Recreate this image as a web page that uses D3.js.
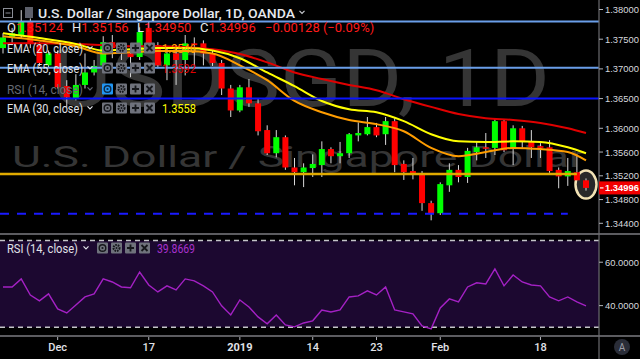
<!DOCTYPE html>
<meta charset="utf-8">
<script src="https://cdn.jsdelivr.net/npm/d3@7"></script>
<style>
  body { margin: 0; background: #000; overflow: hidden; }
  text { font-family: Roboto, "Liberation Sans", Arial, sans-serif; }
  .ax { font-family: "Liberation Sans", Arial, sans-serif; }
</style>
<div id="chart"></div>
<script>

// ---- data ----
const dates = ["2018-11-23","2018-11-26","2018-11-27","2018-11-28","2018-11-29","2018-11-30",
  "2018-12-03","2018-12-04","2018-12-05","2018-12-06","2018-12-07","2018-12-10","2018-12-11","2018-12-12",
  "2018-12-13","2018-12-14","2018-12-17","2018-12-18","2018-12-19","2018-12-20","2018-12-21","2018-12-24",
  "2018-12-26","2018-12-27","2018-12-28","2018-12-31","2019-01-02","2019-01-03","2019-01-04","2019-01-07",
  "2019-01-08","2019-01-09","2019-01-10","2019-01-11","2019-01-14","2019-01-15","2019-01-16","2019-01-17",
  "2019-01-18","2019-01-21","2019-01-22","2019-01-23","2019-01-24","2019-01-25","2019-01-28","2019-01-29",
  "2019-01-30","2019-01-31","2019-02-01","2019-02-04","2019-02-05","2019-02-06","2019-02-07","2019-02-08",
  "2019-02-11","2019-02-12","2019-02-13","2019-02-14","2019-02-15","2019-02-18","2019-02-19","2019-02-20",
  "2019-02-21","2019-02-22","2019-02-25"]

const open = [1.3735,1.3753,1.3757,1.3779,1.3740,1.3706,1.3726,1.3671,1.3651,1.3673,1.3694,1.3706,1.3745,
  1.3735,1.3726,1.3720,1.3769,1.3740,1.3706,1.3726,1.3715,1.3743,1.3743,1.3726,1.3710,1.3667,1.3630,1.3669,
  1.3642,1.3597,1.3558,1.3585,1.3534,1.3526,1.3533,1.3538,1.3565,1.3553,1.3558,1.3588,1.3590,1.3602,1.3590,
  1.3612,1.3540,1.3528,1.3523,1.3474,1.3457,1.3504,1.3530,1.3518,1.3560,1.3568,1.3567,1.3612,1.3565,1.3600,
  1.3578,1.3570,1.3568,1.3530,1.3519,1.3526,1.35124]
const high = [1.3760,1.3769,1.3799,1.3785,1.3745,1.3731,1.3731,1.3681,1.3691,1.3726,1.3715,1.3755,1.3757,
  1.3740,1.3731,1.3770,1.3779,1.3745,1.3737,1.3740,1.3757,1.3753,1.3748,1.3731,1.3715,1.3673,1.3673,1.3683,
  1.3651,1.3605,1.3597,1.3588,1.3550,1.3541,1.3556,1.3578,1.3568,1.3577,1.3592,1.3610,1.3619,1.3609,1.3619,
  1.3617,1.3546,1.3550,1.3528,1.3478,1.3509,1.3541,1.3538,1.3567,1.3577,1.3592,1.3617,1.3615,1.3605,1.3604,
  1.3597,1.3575,1.3580,1.3534,1.3550,1.3556,1.35156]
const low = [1.3726,1.3740,1.3752,1.3735,1.3705,1.3703,1.3667,1.3636,1.3647,1.3667,1.3689,1.3705,1.3718,
  1.3715,1.3686,1.3715,1.3737,1.3701,1.3681,1.3673,1.3689,1.3703,1.3706,1.3705,1.3656,1.3619,1.3627,1.3636,
  1.3588,1.3555,1.3551,1.3530,1.3504,1.3501,1.3518,1.3518,1.3541,1.3541,1.3550,1.3578,1.3588,1.3585,1.3572,
  1.3526,1.3513,1.3514,1.3461,1.3445,1.3454,1.3493,1.3509,1.3508,1.3546,1.3550,1.3555,1.3560,1.3538,1.3567,
  1.3550,1.3550,1.3525,1.3499,1.3503,1.35124,1.34950]
const close = [1.3753,1.3760,1.3779,1.3743,1.3710,1.3726,1.3669,1.3652,1.3673,1.3694,1.3705,1.3745,1.3735,
  1.3726,1.3720,1.3762,1.3743,1.3706,1.3726,1.3715,1.3743,1.3740,1.3726,1.3710,1.3667,1.3630,1.3669,1.3642,
  1.3595,1.3558,1.3585,1.3534,1.3526,1.3534,1.3540,1.3565,1.3553,1.3558,1.3590,1.3592,1.3602,1.3588,1.3612,
  1.3538,1.3526,1.3523,1.3474,1.3457,1.3506,1.3530,1.3518,1.3562,1.3568,1.3567,1.3612,1.3563,1.3600,1.3578,
  1.3568,1.3567,1.3528,1.3519,1.3528,1.35124,1.34996]

// EMA values read at a subset of bars (bar index)
const emaIdx = [0,4,8,11,14,17,20,23,26,29,32,35,38,41,44,47,50,53,56,59,62,64]
const ema20 = [1.3755,1.3748,1.3738,1.3726,1.3728,1.3730,1.3730,1.3726,1.3706,1.3681,1.3646,1.3627,1.3614,
  1.3607,1.3595,1.3567,1.3553,1.3560,1.3567,1.3565,1.3560,1.3546]
const ema30 = [1.3760,1.3752,1.3742,1.3731,1.3733,1.3735,1.3735,1.3731,1.3718,1.3694,1.3671,1.3646,1.3632,
  1.3627,1.3612,1.3590,1.3578,1.3577,1.3578,1.3577,1.3568,1.3558]
const ema55 = [1.3743,1.3743,1.3742,1.3740,1.3738,1.3738,1.3737,1.3733,1.3725,1.3711,1.3694,1.3683,1.3673,
  1.3664,1.3649,1.3636,1.3624,1.3617,1.3614,1.3609,1.3600,1.3592]

const rsi = [48.6,48.6,52.3,44.9,42.2,45.4,38.5,36.6,40.3,44.0,45.4,52.3,50.9,48.6,48.2,55.5,49.5,46.3,49.1,
  47.2,52.3,51.4,49.1,46.3,39.9,35.7,42.6,39.4,34.8,31.6,35.7,31.1,30.2,32.0,33.0,38.0,37.1,38.0,44.0,44.5,
  46.8,44.9,48.6,38.0,37.1,36.2,30.6,29.3,38.9,43.1,41.7,48.6,50.5,50.0,56.9,49.1,54.1,50.9,49.5,49.1,44.0,
  42.2,44.0,41.7,39.8669]

// drawn levels
const lightLevels = [1.3780, 1.3702]
const blueLevel = 1.3650
const goldLevel = 1.3523
const dashLevel = 1.3456
const rsiBands = [70, 30]

const priceTicks = [1.38, 1.375, 1.37, 1.365, 1.36, 1.356, 1.352, 1.348, 1.344]
const rsiTicks = [60, 40]
const timeTickDates = ["2018-12-03","2018-12-17","2019-01-02","2019-01-14","2019-01-23","2019-02-01","2019-02-18"]
const timeTickLabels = ["Dec","17","2019","14","23","Feb","18"]

// ---- layout ----
const W = 640, H = 359
const axisX = 599
const mainBot = 234, rsiBot = 336

const svg = d3.select("#chart").append("svg")
    .attr("width", W).attr("height", H)
    .style("background", "#000")

const x = d3.scalePoint().domain(dates).range([3, 586])
const y = d3.scaleLinear().domain([1.3422, 1.3816]).range([mainBot, 0])
const yr = d3.scaleLinear().domain([26.0, 73.0]).range([rsiBot, mainBot])
const f5 = d3.format(".5f")
const last = dates.length - 1

const defs = svg.append("defs")
defs.append("clipPath").attr("id", "mainClip")
  .append("rect").attr("x", 0).attr("y", 0).attr("width", axisX).attr("height", mainBot)
defs.append("clipPath").attr("id", "rsiClip")
  .append("rect").attr("x", 0).attr("y", mainBot).attr("width", axisX).attr("height", rsiBot - mainBot)

const main = svg.append("g").attr("clip-path", "url(#mainClip)")

// watermark
main.append("text")
    .attr("x", 52).attr("y", 106)
    .attr("font-size", 80)
    .attr("fill", "#353535")
    .attr("textLength", 498).attr("lengthAdjust", "spacingAndGlyphs")
    .text("USDSGD, 1D")
main.append("text")
    .attr("x", 12).attr("y", 167)
    .attr("font-size", 30)
    .attr("fill", "#353535")
    .attr("textLength", 572).attr("lengthAdjust", "spacingAndGlyphs")
    .text("U.S. Dollar / Singapore Dollar")

// circle marking the last bar
main.append("ellipse")
    .attr("cx", x(dates[last])).attr("cy", y((high[last] + low[last]) / 2))
    .attr("rx", 10.5).attr("ry", 14)
    .attr("fill", "rgba(90,90,90,0.45)")
    .attr("stroke", "#f2e2b4").attr("stroke-width", 2.5)

// candles
const bars = dates.map((d, i) => ({d, o: open[i], h: high[i], l: low[i], c: close[i]}))
const candle = main.append("g").selectAll("g").data(bars).join("g")
candle.append("line")
    .attr("x1", d => x(d.d)).attr("x2", d => x(d.d))
    .attr("y1", d => y(d.h)).attr("y2", d => y(d.l))
    .attr("stroke", "#d8d8d8").attr("stroke-width", 1)
candle.append("rect")
    .attr("x", d => x(d.d) - 3).attr("width", 6)
    .attr("y", d => y(Math.max(d.o, d.c)))
    .attr("height", d => Math.max(1.5, Math.abs(y(d.o) - y(d.c))))
    .attr("fill", d => d.c >= d.o ? "#00ff00" : "#ff0000")

// EMAs
const emaLine = vals => d3.line()
    .x((v, k) => x(dates[emaIdx[k]]))
    .y(v => y(v))
    .curve(d3.curveMonotoneX)(vals)
;[[ema55, "#e00000"], [ema30, "#ffff00"], [ema20, "#ff9d00"]].forEach(([vals, col]) => {
  main.append("path").attr("d", emaLine(vals))
      .attr("fill", "none").attr("stroke", col).attr("stroke-width", 2)
})

// horizontal drawings
main.selectAll(".lightLevel").data(lightLevels).join("line")
    .attr("x1", 0).attr("x2", axisX)
    .attr("y1", d => y(d)).attr("y2", d => y(d))
    .attr("stroke", "#6a9ee8").attr("stroke-width", 2)
main.append("line")
    .attr("x1", 0).attr("x2", axisX)
    .attr("y1", y(blueLevel)).attr("y2", y(blueLevel))
    .attr("stroke", "#0a14ff").attr("stroke-width", 2)
main.append("line")
    .attr("x1", 0).attr("x2", x(dates[last - 1]))
    .attr("y1", y(goldLevel)).attr("y2", y(goldLevel))
    .attr("stroke", "#e0aa00").attr("stroke-width", 2.5)
main.append("line")
    .attr("x1", 0).attr("x2", x(dates[last - 2]))
    .attr("y1", y(dashLevel)).attr("y2", y(dashLevel))
    .attr("stroke", "#1a1aff").attr("stroke-width", 2)
    .attr("stroke-dasharray", "9,8")

// ---- legend / header ----
const hdr = svg.append("g")
hdr.append("rect").attr("x", 3.5).attr("y", 8.5).attr("width", 9).attr("height", 9)
    .attr("fill", "none").attr("stroke", "#8a8d96")
hdr.append("line").attr("x1", 5.5).attr("x2", 10.5).attr("y1", 13).attr("y2", 13).attr("stroke", "#8a8d96")
hdr.append("rect").attr("x", 25).attr("y", 7).attr("width", 8).attr("height", 11).attr("fill", "#5d606b")
hdr.append("text").attr("x", 38).attr("y", 18)
    .attr("font-size", 13).attr("font-weight", 500).attr("fill", "#e6e8ee")
    .attr("textLength", 257).attr("lengthAdjust", "spacingAndGlyphs")
    .text("U.S. Dollar / Singapore Dollar, 1D, OANDA")

function chevron(g, cx, cy, col) {
  g.append("path").attr("d", `M${cx - 2.5},${cy - 1.2}l2.5,2.5l2.5,-2.5`)
      .attr("fill", "none").attr("stroke", col).attr("stroke-width", 1.2)
}
chevron(hdr, 302, 12, "#c8cad0")

const ohlc = [["O", open[last], 7], ["H", high[last], 72], ["L", low[last], 137], ["C", close[last], 200]]
ohlc.forEach(([k, v, px]) => {
  const t = hdr.append("text").attr("x", px).attr("y", 32).attr("font-size", 13)
  t.append("tspan").attr("fill", "#e6e8ee").text(k)
  t.append("tspan").attr("fill", "#ff1a1a").text(f5(v))
})
const chg = close[last] - close[last - 1]
hdr.append("text").attr("x", 265).attr("y", 32).attr("font-size", 13).attr("fill", "#ff1a1a")
    .text(`${f5(chg)} (${d3.format(".2f")(chg / close[last - 1] * 100)}%)`)

function buttons(g, x0, cy, blueFirst) {
  for (let k = 0; k < 4; k++) {
    const bx = x0 + k * 14, by = cy - 5.5
    const on = blueFirst && k === 0
    g.append("rect").attr("x", bx).attr("y", by).attr("width", 11).attr("height", 11).attr("rx", 1)
        .attr("fill", on ? "#2196f3" : "#6f727c")
    const ic = on ? "#0b2a4a" : "#16171b"
    const cx = bx + 5.5
    if (k === 0) {
      g.append("circle").attr("cx", cx).attr("cy", cy).attr("r", 3.3)
          .attr("fill", "none").attr("stroke", ic).attr("stroke-width", 1.4)
      g.append("circle").attr("cx", cx).attr("cy", cy).attr("r", 1.1).attr("fill", ic)
    } else if (k === 1) {
      g.append("circle").attr("cx", cx).attr("cy", cy).attr("r", 3)
          .attr("fill", "none").attr("stroke", ic).attr("stroke-width", 2)
          .attr("stroke-dasharray", "1.6,0.9")
      g.append("circle").attr("cx", cx).attr("cy", cy).attr("r", 1).attr("fill", ic)
    } else if (k === 2) {
      g.append("path").attr("d", `M${cx - 3.5},${cy}h7M${cx},${cy - 3.5}v7`)
          .attr("stroke", ic).attr("stroke-width", 1.8)
    } else {
      g.append("path").attr("d", `M${cx - 3},${cy - 3}l6,6M${cx + 3},${cy - 3}l-6,6`)
          .attr("stroke", ic).attr("stroke-width", 1.8)
    }
  }
}

const legendRows = [
  {label: "EMA (20, close)", cy: 48, value: ema20[ema20.length - 1], col: "#ff9d00", dim: false},
  {label: "EMA (55, close)", cy: 68, value: ema55[ema55.length - 1], col: "#e00000", dim: false},
  {label: "RSI (14, close)", cy: 89, value: null, col: null, dim: true},
  {label: "EMA (30, close)", cy: 108, value: ema30[ema30.length - 1], col: "#ffff00", dim: false}
]
legendRows.forEach(r => {
  const tc = r.dim ? "#666973" : "#e0e2e8"
  hdr.append("text").attr("x", 7).attr("y", r.cy + 4.5).attr("font-size", 12.5).attr("fill", tc)
      .attr("textLength", 76).attr("lengthAdjust", "spacingAndGlyphs").text(r.label)
  chevron(hdr, 90, r.cy - 0.5, tc)
  buttons(hdr, 102, r.cy, r.dim)
  if (r.value !== null) {
    hdr.append("text").attr("x", 162).attr("y", r.cy + 4.5).attr("font-size", 12.5)
        .attr("fill", r.col).attr("textLength", 34).attr("lengthAdjust", "spacingAndGlyphs")
        .text(d3.format(".4f")(r.value))
  }
})

// ---- RSI pane ----
const rp = svg.append("g").attr("clip-path", "url(#rsiClip)")
rp.append("rect")
    .attr("x", 0).attr("width", axisX)
    .attr("y", yr(rsiBands[0])).attr("height", yr(rsiBands[1]) - yr(rsiBands[0]))
    .attr("fill", "#1c0830")
rp.selectAll(".band").data(rsiBands).join("line")
    .attr("x1", 0).attr("x2", axisX)
    .attr("y1", d => yr(d)).attr("y2", d => yr(d))
    .attr("stroke", "#c4c4c8").attr("stroke-width", 1.5).attr("stroke-dasharray", "5,4")
rp.append("path")
    .attr("d", d3.line().x((v, i) => x(dates[i])).y(v => yr(v))(rsi))
    .attr("fill", "none").attr("stroke", "#a421c4").attr("stroke-width", 1.4)

const rl = svg.append("g")
rl.append("text").attr("x", 7).attr("y", 252.5).attr("font-size", 12.5).attr("fill", "#e0e2e8")
    .attr("textLength", 71).attr("lengthAdjust", "spacingAndGlyphs").text("RSI (14, close)")
chevron(rl, 86, 247.5, "#e0e2e8")
buttons(rl, 97, 248, false)
rl.append("text").attr("x", 157).attr("y", 252.5).attr("font-size", 12.5).attr("fill", "#a832cc")
    .attr("textLength", 38).attr("lengthAdjust", "spacingAndGlyphs")
    .text(d3.format(".4f")(rsi[rsi.length - 1]))

// ---- separators ----
svg.append("line").attr("x1", 0).attr("x2", W).attr("y1", mainBot).attr("y2", mainBot)
    .attr("stroke", "#5c5c60").attr("stroke-width", 2)
svg.append("line").attr("x1", 0).attr("x2", W).attr("y1", rsiBot).attr("y2", rsiBot)
    .attr("stroke", "#5c5c60").attr("stroke-width", 2)
svg.append("line").attr("x1", axisX).attr("x2", axisX).attr("y1", 0).attr("y2", H)
    .attr("stroke", "#6c6c70").attr("stroke-width", 1.2)

// ---- price axis ----
const pa = svg.append("g")
pa.selectAll("line").data(priceTicks).join("line")
    .attr("x1", axisX).attr("x2", axisX + 4)
    .attr("y1", d => y(d)).attr("y2", d => y(d))
    .attr("stroke", "#b0b2b8")
pa.selectAll("text").data(priceTicks).join("text")
    .attr("class", "ax")
    .attr("x", 605).attr("y", d => y(d) + 3.5)
    .attr("font-size", 9.4).attr("fill", "#d6d8de")
    .text(d => f5(d))

const py = y(close[last])
pa.append("rect").attr("x", axisX).attr("y", py - 6.5).attr("width", W - axisX).attr("height", 13)
    .attr("fill", "#f00000")
pa.append("line").attr("x1", axisX + 1).attr("x2", axisX + 4.5).attr("y1", py).attr("y2", py)
    .attr("stroke", "#fff").attr("stroke-width", 1.2)
pa.append("text").attr("class", "ax").attr("x", 605).attr("y", py + 3.5)
    .attr("font-size", 9.4).attr("font-weight", "bold")
    .attr("fill", "#fff")
    .text(f5(close[last]))

const ra = svg.append("g")
ra.selectAll("line").data(rsiTicks).join("line")
    .attr("x1", axisX).attr("x2", axisX + 4)
    .attr("y1", d => yr(d)).attr("y2", d => yr(d))
    .attr("stroke", "#b0b2b8")
ra.selectAll("text").data(rsiTicks).join("text")
    .attr("class", "ax")
    .attr("x", 605).attr("y", d => yr(d) + 3.5)
    .attr("font-size", 9.4).attr("fill", "#d6d8de")
    .text(d => d3.format(".4f")(d))

// ---- time axis ----
const ta = svg.append("g")
ta.selectAll("line").data(timeTickDates).join("line")
    .attr("x1", d => x(d)).attr("x2", d => x(d))
    .attr("y1", rsiBot + 1).attr("y2", rsiBot + 4)
    .attr("stroke", "#b0b2b8")
ta.selectAll("text").data(timeTickDates).join("text")
    .attr("x", d => x(d)).attr("y", 351)
    .attr("text-anchor", "middle")
    .attr("font-size", 11).attr("font-weight", (d, i) => timeTickLabels[i] === "2019" ? "bold" : 500)
    .attr("fill", "#e0e2e8")
    .text((d, i) => timeTickLabels[i])

svg.append("circle").attr("cx", 622).attr("cy", 347).attr("r", 8).attr("fill", "#2a2d38")
svg.append("text").attr("x", 622).attr("y", 351).attr("text-anchor", "middle")
    .attr("font-size", 10).attr("fill", "#9a9ca6").text("A")

</script>
